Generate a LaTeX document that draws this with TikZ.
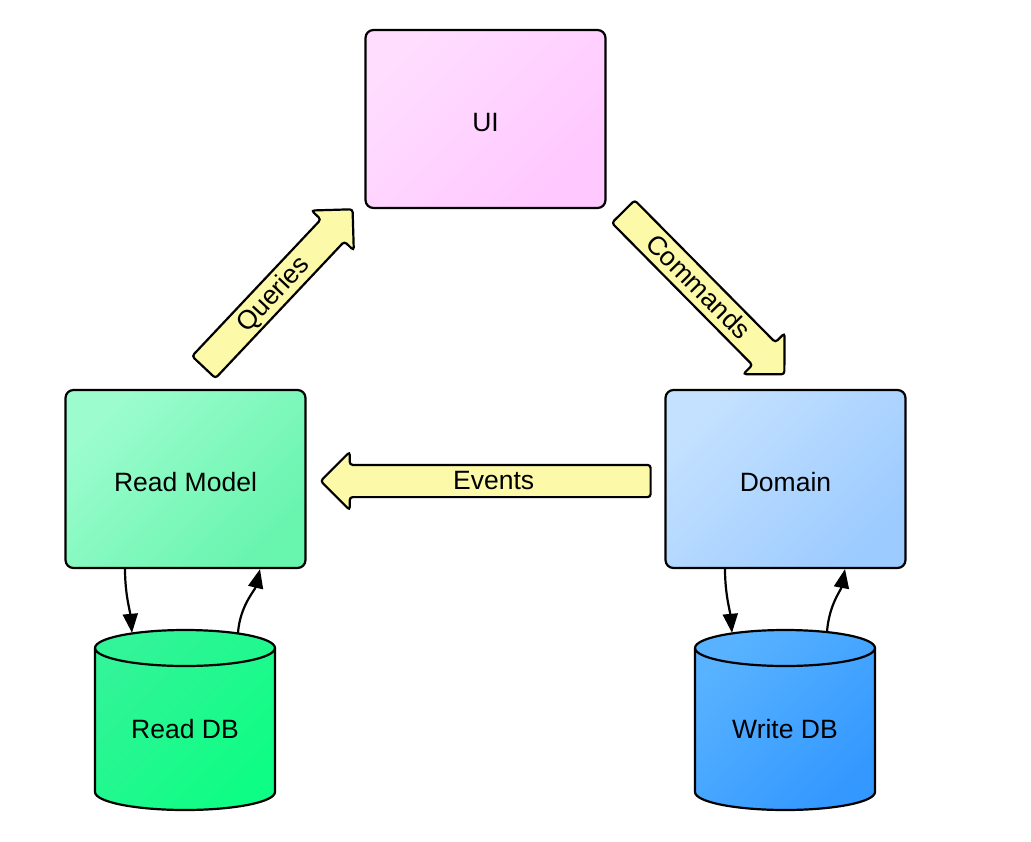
\documentclass[tikz,border=0pt]{standalone}
\usepackage{fontspec}
\setmainfont{Liberation Sans}
\usetikzlibrary{shapes.arrows,arrows.meta,calc}
\definecolor{uiA}{HTML}{FFDDFF}
\definecolor{uiB}{HTML}{FFC8FF}
\definecolor{rmA}{HTML}{9CFCCE}
\definecolor{rmB}{HTML}{68F5AE}
\definecolor{dmA}{HTML}{C4E1FF}
\definecolor{dmB}{HTML}{9CCBFF}
\definecolor{rdA}{HTML}{32F498}
\definecolor{rdB}{HTML}{0EFD84}
\definecolor{wdA}{HTML}{58B2FF}
\definecolor{wdB}{HTML}{3398FF}
\definecolor{arrowfill}{HTML}{FCF9A8}
\begin{document}
\begin{tikzpicture}[x=1pt,y=-1pt,
  every node/.style={font=\fontsize{26.5}{31}\selectfont},
  box/.style={draw=black, line width=2.2pt, rounded corners=8pt,
    minimum width=240pt, minimum height=178pt, inner sep=0pt,
    text height=25pt, text depth=0pt},
  fat/.style={single arrow, draw=black, line width=2.2pt, fill=arrowfill,
    rounded corners=3pt, single arrow head extend=13pt,
    single arrow tip angle=90, single arrow head indent=0pt,
    text height=18pt, text depth=1pt, inner xsep=2pt, inner ysep=5.5pt,
    anchor=tail},
  dbtext/.style={minimum width=180pt, minimum height=162pt, inner sep=0pt},
  small/.style={line width=2.2pt, -{Triangle[length=19pt,width=15pt]}},
  cyl/.style={draw=black, line width=2.2pt}]
\useasboundingbox (0,0) rectangle (1031,841);

% boxes
\node[box, top color=uiA, bottom color=uiB, shading angle=45] (ui) at (485.5,119) {UI};
\node[box, top color=rmA, bottom color=rmB, shading angle=45] (rm) at (185.5,479) {Read Model};
\node[box, top color=dmA, bottom color=dmB, shading angle=45] (dm) at (785.5,479) {Domain};

% cylinders
\shade[cyl, top color=rdA, bottom color=rdB, shading angle=45]
  (95,648) -- (95,792) arc[start angle=180, end angle=360, x radius=90pt, y radius=18pt]
  -- (275,648) arc[start angle=0, end angle=180, x radius=90pt, y radius=18pt] -- cycle;
\draw[cyl] (95,648) arc[start angle=180, end angle=360, x radius=90pt, y radius=18pt];
\node[dbtext] (rdb) at (185,729) {Read DB};

\shade[cyl, top color=wdA, bottom color=wdB, shading angle=45]
  (695,648) -- (695,792) arc[start angle=180, end angle=360, x radius=90pt, y radius=18pt]
  -- (875,648) arc[start angle=0, end angle=180, x radius=90pt, y radius=18pt] -- cycle;
\draw[cyl] (695,648) arc[start angle=180, end angle=360, x radius=90pt, y radius=18pt];
\node[dbtext] (wdb) at (785,729) {Write DB};

% small connectors
\draw[small] ($(rm.south)+(-60.5,0)$) .. controls +(0,25) and +(-2,-22) .. ($(rdb.north)+(-53,-15)$);
\draw[small] ($(rdb.north)+(53,-15)$) .. controls +(2,-27) and +(-5,21) .. ($(rm.south)+(74.5,0)$);
\draw[small] ($(dm.south)+(-60.5,0)$) .. controls +(0,25) and +(-2,-22) .. ($(wdb.north)+(-53,-15)$);
\draw[small] ($(wdb.north)+(42,-16)$) .. controls +(2,-27) and +(-4,21) .. ($(dm.south)+(59.5,0)$);

% fat arrows
\node[fat, rotate=46.7, minimum height=217pt] (q) at (203,368) {Queries};
\node[fat, rotate=-45.3, minimum height=229pt] (c) at (622.5,210.8) {Commands};
\node[fat, shape border rotate=180, minimum height=330pt] (e) at (651.7,481) {Events};
\end{tikzpicture}
\end{document}
